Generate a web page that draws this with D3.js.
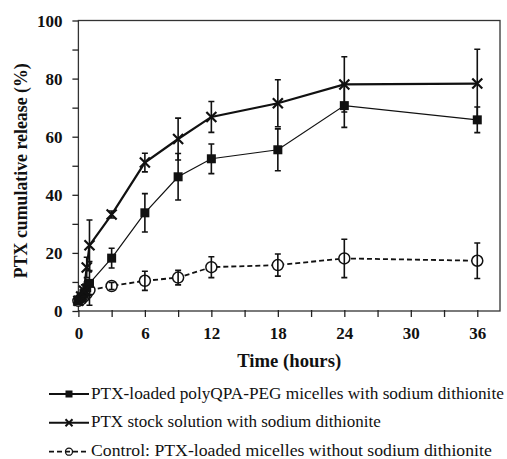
<!DOCTYPE html>
<html><head><meta charset="utf-8">
<script src="https://cdn.jsdelivr.net/npm/d3@7"></script>
<style>body{margin:0;background:#fff}svg{display:block}</style>
</head><body>
<svg id="c" width="507" height="459"></svg>
<script>
const times = [0, 0.25, 0.5, 0.75, 1, 3, 6, 9, 12, 18, 24, 36];
const micelleVals = [3.5, 4.5, 6, 8, 9.5, 18.2, 33.8, 46.2, 52.4, 55.5, 70.7, 65.8];
const micelleErr  = [0.8, 1, 1.5, 2, 7.5, 3.4, 6.6, 8, 5.1, 7.2, 7.5, 4.4];
const stockVals = [3.5, 5, 7, 15, 22.6, 33.2, 51.1, 59.2, 66.8, 71.5, 78.0, 78.3];
const stockErr  = [0.8, 1, 2, 3.5, 8.7, 1.2, 3.2, 7.2, 5.3, 8.1, 9.5, 11.8];
const controlVals = [3.5, 4, 5, 6, 7.2, 8.6, 10.4, 11.5, 15.1, 15.8, 18.1, 17.3];
const controlErr  = [0.8, 1, 1, 1.2, 1.5, 1.2, 3.3, 2.5, 3.6, 3.8, 6.6, 6.1];
const xTicks = [0, 6, 12, 18, 24, 30, 36];
const yTicks = [0, 20, 40, 60, 80, 100];
const legendLabels = [
  "PTX-loaded polyQPA-PEG micelles with sodium dithionite",
  "PTX stock solution with sodium dithionite",
  "Control: PTX-loaded micelles without sodium dithionite"
];
const xLabel = "Time (hours)";
const yLabel = "PTX cumulative release (%)";

const svg = d3.select("#c");
const L = 78.4, R = 500, T = 20.5, B = 311;
const x = d3.scaleLinear().domain([0, 36]).range([L, L + 36 * 11.08]);
const y = d3.scaleLinear().domain([0, 100]).range([B, T]);
const font = "Liberation Serif";

function fitWidth(sel, target) {
  const w = sel.node().getComputedTextLength();
  const fs = parseFloat(sel.style("font-size"));
  sel.style("font-size", (fs * target / w) + "px");
}

svg.append("rect").attr("x", L).attr("y", T).attr("width", R - L).attr("height", B - T)
  .attr("fill", "none").attr("stroke", "#333").attr("stroke-width", 1.3);

const xAxis = d3.axisBottom(x).tickValues(d3.range(0, 37.5, 3)).tickSize(6)
  .tickFormat(d => xTicks.includes(d) ? d : "");
const gx = svg.append("g").attr("transform", `translate(0,${B})`).call(xAxis);
gx.attr("font-family", null);
gx.select(".domain").remove();
gx.selectAll(".tick line").attr("stroke", "#222").attr("stroke-width", 1.3).attr("y1", -1).attr("y2", 6);
gx.selectAll(".tick text").style("font-family", font).style("font-weight", "bold")
  .style("font-size", "17px").attr("fill", "#111").attr("dy", null).attr("y", 28);

const yAxis = d3.axisLeft(y).tickValues(d3.range(0, 101, 10)).tickSize(6)
  .tickFormat(d => yTicks.includes(d) ? d : "");
const gy = svg.append("g").attr("transform", `translate(${L},0)`).call(yAxis);
gy.attr("font-family", null);
gy.select(".domain").remove();
gy.selectAll(".tick line").attr("stroke", "#222").attr("stroke-width", 1.3);
gy.selectAll(".tick text").style("font-family", font).style("font-weight", "bold")
  .style("font-size", "17px").attr("fill", "#111").attr("x", -16).attr("dy", "0.34em");

const xl = svg.append("text").attr("x", (L + R) / 2).attr("y", 367).attr("text-anchor", "middle")
  .style("font-family", font).style("font-weight", "bold").style("font-size", "18px").attr("fill", "#111").text(xLabel);
fitWidth(xl, 104);
const yl = svg.append("text").attr("transform", `translate(27,${(T + B) / 2 + 5}) rotate(-90)`).attr("text-anchor", "middle")
  .style("font-family", font).style("font-weight", "bold").style("font-size", "18px").attr("fill", "#111").text(yLabel);
fitWidth(yl, 215);

const series = [
  {vals: micelleVals, err: micelleErr, sym: "square", width: 1.2, dash: null},
  {vals: stockVals, err: stockErr, sym: "cross", width: 2.2, dash: null},
  {vals: controlVals, err: controlErr, sym: "circle", width: 1.8, dash: "5,3"}
];

function drawMarker(g, sym, cx, cy) {
  if (sym === "square") {
    g.append("rect").attr("x", cx - 4.5).attr("y", cy - 4.5).attr("width", 9).attr("height", 9).attr("fill", "#111");
  } else if (sym === "cross") {
    const s = 5;
    g.append("path").attr("d", `M${cx - s},${cy - s}L${cx + s},${cy + s}M${cx - s},${cy + s}L${cx + s},${cy - s}`)
      .attr("stroke", "#111").attr("stroke-width", 2.2).attr("fill", "none");
  } else {
    g.append("circle").attr("cx", cx).attr("cy", cy).attr("r", 5.5).attr("fill", "#fff")
      .attr("stroke", "#111").attr("stroke-width", 1.5);
  }
}

const line = d3.line();
[2, 0, 1].forEach(si => {
  const s = series[si];
  const g = svg.append("g");
  const pts = times.map((t, i) => [x(t), y(s.vals[i])]);
  g.append("path").attr("d", line(pts)).attr("fill", "none").attr("stroke", "#111")
    .attr("stroke-width", s.width).attr("stroke-dasharray", s.dash);
  times.forEach((t, i) => {
    const cx = x(t), y1 = y(s.vals[i] + s.err[i]), y0 = y(Math.max(0, s.vals[i] - s.err[i]));
    if (s.sym === "circle") drawMarker(g, s.sym, cx, y(s.vals[i]));
    g.append("path").attr("d", `M${cx},${y1}L${cx},${y0}M${cx - 3},${y1}L${cx + 3},${y1}M${cx - 3},${y0}L${cx + 3},${y0}`)
      .attr("stroke", "#111").attr("stroke-width", 1.6).attr("fill", "none");
    if (s.sym !== "circle") drawMarker(g, s.sym, cx, y(s.vals[i]));
  });
});

const ly = [394, 422.7, 451.7];
const legendW = [413, 290, 401];
series.forEach((s, i) => {
  const g = svg.append("g");
  g.append("line").attr("x1", 49).attr("x2", 89).attr("y1", ly[i]).attr("y2", ly[i])
    .attr("stroke", "#111").attr("stroke-width", s.dash ? 1.8 : 2).attr("stroke-dasharray", s.dash ? "5,3" : null);
  if (s.sym === "circle") {
    g.append("circle").attr("cx", 69).attr("cy", ly[i]).attr("r", 3.5).attr("fill", "none").attr("stroke", "#111").attr("stroke-width", 1.3);
  } else if (s.sym === "square") {
    g.append("rect").attr("x", 65.5).attr("y", ly[i] - 3.5).attr("width", 7).attr("height", 7).attr("fill", "#111");
  } else {
    const c = 69, sz = 3.5;
    g.append("path").attr("d", `M${c - sz},${ly[i] - sz}L${c + sz},${ly[i] + sz}M${c - sz},${ly[i] + sz}L${c + sz},${ly[i] - sz}`)
      .attr("stroke", "#111").attr("stroke-width", 2);
  }
  const t = g.append("text").attr("x", 91).attr("y", ly[i] + 4.5).style("font-family", font).style("font-size", "17px")
    .attr("fill", "#111").text(legendLabels[i]);
  fitWidth(t, legendW[i]);
});
</script>
</body></html>
